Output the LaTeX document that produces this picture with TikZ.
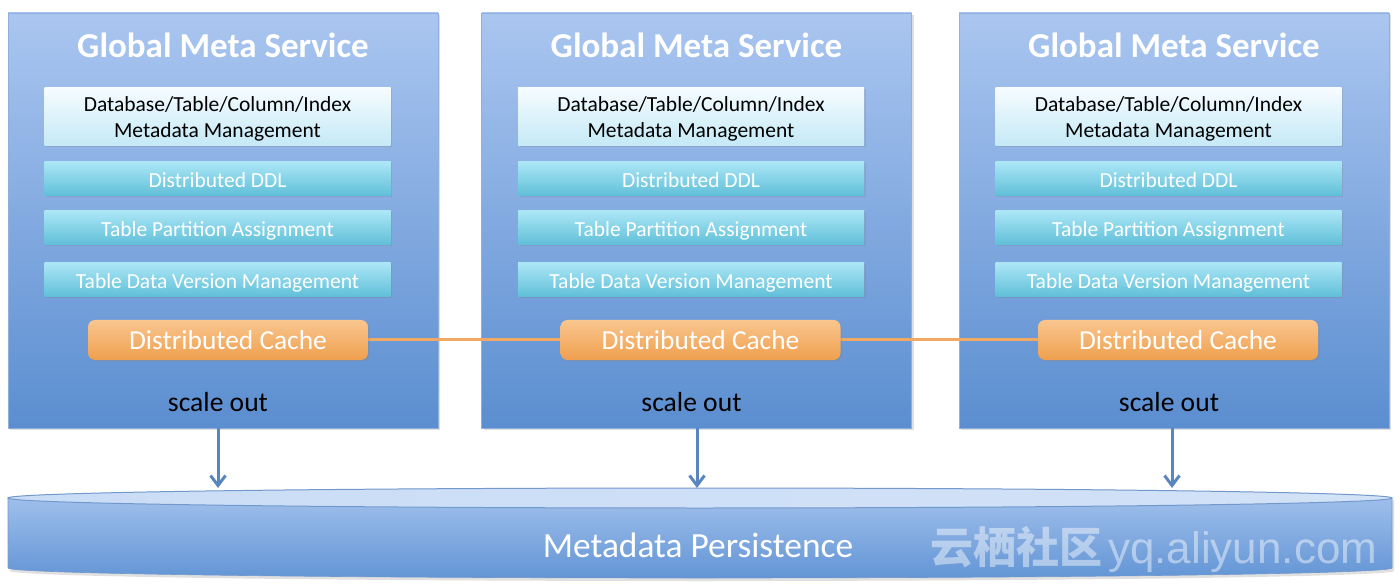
\documentclass[tikz,border=0pt]{standalone}
\usepackage{fontspec}
\setmainfont{Carlito}
\newfontfamily\cjk{Noto Sans CJK SC}
\newfontfamily\wmfont{Liberation Sans}
\usetikzlibrary{shadows,arrows.meta}
\definecolor{svctop}{HTML}{AAC6F0}
\definecolor{svcbot}{HTML}{5B8ED0}
\definecolor{svcedge}{HTML}{8FB0DD}
\definecolor{dbtop}{HTML}{F6FCFF}
\definecolor{dbbot}{HTML}{C4E9F6}
\definecolor{cytop}{HTML}{ABE6F6}
\definecolor{cybot}{HTML}{5FBFD8}
\definecolor{ortop}{HTML}{F9C68E}
\definecolor{orbot}{HTML}{EF9F4E}
\definecolor{orline}{HTML}{F0A862}
\definecolor{arrblue}{HTML}{5A86BF}
\definecolor{cyltop}{HTML}{A6C4EE}
\definecolor{cylbot}{HTML}{6395D5}
\definecolor{cyllid}{HTML}{CADDF6}
\definecolor{cyledge}{HTML}{7398CC}
\begin{document}
\begin{tikzpicture}[x=1pt,y=1pt,
  svc/.style={draw=svcedge, line width=0.6pt, top color=svctop, bottom color=svcbot,
    minimum width=430pt, minimum height=415pt, inner sep=0pt,
    drop shadow={shadow xshift=2pt, shadow yshift=-2pt, opacity=0.25}},
  title/.style={text=white, font=\bfseries\fontsize{35}{40}\selectfont},
  dbbox/.style={top color=dbtop, bottom color=dbbot, minimum width=346pt, minimum height=58pt,
    inner sep=0pt, align=center, font=\fontsize{21.5}{25.5}\selectfont, text depth=0pt,
    drop shadow={shadow xshift=1.5pt, shadow yshift=-1.5pt, opacity=0.25}},
  cybox/.style={top color=cytop, bottom color=cybot, minimum width=346pt, minimum height=34pt,
    inner sep=0pt, text=white, font=\fontsize{21.5}{24}\selectfont,
    text height=17pt, text depth=0pt,
    drop shadow={shadow xshift=1.5pt, shadow yshift=-1.5pt, opacity=0.25}},
  cache/.style={top color=ortop, bottom color=orbot, rounded corners=7pt, minimum width=280pt,
    minimum height=40pt, inner sep=0pt, text=white, font=\fontsize{27.4}{30}\selectfont,
    text height=19pt, text depth=0pt,
    drop shadow={shadow xshift=1.5pt, shadow yshift=-1.5pt, opacity=0.25}},
  scl/.style={font=\fontsize{27.6}{30}\selectfont, text=black},
  link/.style={draw=orline, line width=3pt},
  arr/.style={draw=arrblue, line width=3pt, -{Straight Barb[length=10pt,width=15pt,line width=3pt]}}
]
\useasboundingbox (0,0) rectangle (1400,587);

% services
\foreach \i/\cx in {1/223, 2/696.5, 3/1174} {
  \node[svc] (g\i) at (\cx,366.5) {};
  \node[title] (t\i) at (\cx,542) {Global Meta Service};
  \node[dbbox] (db\i) at ({\cx-5.5},470) {Database/Table/Column/Index\\Metadata Management};
  \node[cybox] (ddl\i) at ({\cx-5.5},408) {Distributed DDL};
  \node[cybox] (tp\i) at ({\cx-5.5},359) {Table Partition Assignment};
  \node[cybox] (tv\i) at ({\cx-5.5},307) {Table Data Version Management};
  \node[scl] (so\i) at ({\cx-5},185) {scale out};
}
% cache link
\coordinate (l1) at (228,247);
\coordinate (l3) at (1178,247);
\draw[link] (l1) -- (l3);
\node[cache] (c1) at (228,247) {Distributed Cache};
\node[cache] (c2) at (700.5,247) {Distributed Cache};
\node[cache] (c3) at (1178,247) {Distributed Cache};

% cylinder
\fill[black, opacity=0.12] (10,87) -- (10,16) arc[start angle=180, end angle=360, x radius=692, y radius=10] -- (1394,87) -- cycle;
\shade[top color=cyltop, bottom color=cylbot] (8,89) -- (8,19) arc[start angle=180, end angle=360, x radius=692, y radius=10] -- (1392,89) arc[start angle=0, end angle=180, x radius=692, y radius=10] -- cycle;
\draw[cyledge, line width=0.6pt] (8,89) -- (8,19) arc[start angle=180, end angle=360, x radius=692, y radius=10] -- (1392,89);
\shade[left color=cyllid, right color=cyllid!85!white, draw=cyledge, line width=1pt] (700,89) ellipse[x radius=692, y radius=10];
\node[text=white, font=\fontsize{35.4}{40}\selectfont] (mp) at (698,42) {Metadata Persistence};
\node[text=white, opacity=0.45, anchor=west, inner sep=0pt] (wm) at (930,37)
  {{\cjk\bfseries\fontsize{43}{46}\selectfont 云栖社区}\hspace{6pt}{\wmfont\fontsize{44}{46}\selectfont yq.aliyun.com}};

% arrows
\coordinate (a1) at (218,99);
\coordinate (a2) at (697,99);
\coordinate (a3) at (1172,99);
\draw[arr] (a1 |- g1.south) -- (a1);
\draw[arr] (a2 |- g2.south) -- (a2);
\draw[arr] (a3 |- g3.south) -- (a3);
\end{tikzpicture}
\end{document}
